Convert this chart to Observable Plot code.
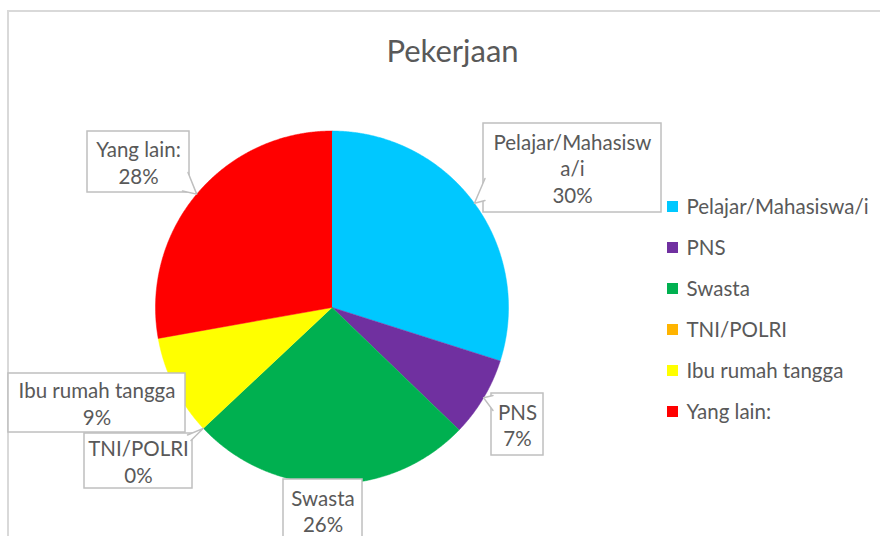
<!DOCTYPE html>
<html>
<head>
<meta charset="utf-8">
<script src="https://cdn.jsdelivr.net/npm/d3@7"></script>
<script src="https://cdn.jsdelivr.net/npm/@observablehq/plot@0.6"></script>
<style>
  html, body { margin: 0; padding: 0; background: #fff; overflow: hidden; }
  #chart { width: 880px; height: 536px; }
</style>
</head>
<body>
<div id="chart"></div>
<script>
// ---- data ----
const title = "Pekerjaan";
const categories = ["Pelajar/Mahasiswa/i", "PNS", "Swasta", "TNI/POLRI", "Ibu rumah tangga", "Yang lain:"];
const values = [29.9, 7.3, 25.8, 0, 9.2, 27.8];
const colors = ["#00c8ff", "#7030a0", "#00b050", "#ffb400", "#ffff00", "#ff0000"];
const calloutNames = ["Pelajar/Mahasisw\na/i", "PNS", "Swasta", "TNI/POLRI", "Ibu rumah tangga", "Yang lain:"];

// ---- layout (pixels) ----
const cx = 331.5, cy = 307, R = 176.5;
const FONT = "Lato, 'Open Sans', sans-serif";
const TEXT = "#595959";
const BOX = "#bfbfbf";
const LABEL_SIZE = 20.5;
// callout boxes in drawing order (index refers to categories)
const callouts = [
  {i: 0, x1: 483, x2: 661, y1: 123, y2: 212, base: [[484.5, 178], [484.5, 200]]},
  {i: 1, x1: 491, x2: 543, y1: 393, y2: 455, base: [[492.5, 395], [492.5, 410]]},
  {i: 2, x1: 283, x2: 362, y1: 479, y2: 541, base: null},
  {i: 3, x1: 84,  x2: 192, y1: 433, y2: 488, base: [[187, 434.5], [190.5, 440]]},
  {i: 4, x1: 8,   x2: 185, y1: 373, y2: 432, base: null},
  {i: 5, x1: 87,  x2: 189, y1: 131, y2: 192, base: [[187.5, 172], [182, 190.5]]}
];
const legendX = 667, legendY0 = 206.5, legendStep = 41, legendSq = 11;

// ---- build ----
const rows = categories.map((name, k) => ({name, value: values[k], color: colors[k], k}));
const total = d3.sum(values);
const arcs = d3.pie().sort(null).value(d => d.value)(rows);

const slicePts = arcs.flatMap(a => {
  const span = a.endAngle - a.startAngle;
  if (span <= 0) return [];
  const n = Math.max(2, Math.ceil(span / 0.005));
  const pts = [{name: a.data.name, color: a.data.color, x: cx, y: cy}];
  for (let j = 0; j <= n; j++) {
    const ang = a.startAngle + span * j / n;
    pts.push({name: a.data.name, color: a.data.color, x: cx + R * Math.sin(ang), y: cy - R * Math.cos(ang)});
  }
  return pts;
});

const tipOf = i => {
  const a = arcs[i];
  const m = (a.startAngle + a.endAngle) / 2;
  return [cx + R * Math.sin(m), cy - R * Math.cos(m)];
};

const wedgePts = callouts.filter(c => c.base).flatMap(c => {
  const t = tipOf(c.i);
  return [
    {id: c.i, x: c.base[0][0], y: c.base[0][1]},
    {id: c.i, x: t[0], y: t[1]},
    {id: c.i, x: c.base[1][0], y: c.base[1][1]}
  ];
});

const pctFmt = d3.format(".0%");
const calloutText = c => calloutNames[c.i] + "\n" + pctFmt(values[c.i] / total);

const legendRows = rows.map((r, k) => ({...r, yc: legendY0 + k * legendStep}));

const plot = Plot.plot({
  width: 880,
  height: 536,
  margin: 0,
  style: {background: "#fff", fontFamily: FONT},
  x: {type: "linear", domain: [0, 880], range: [0, 880], axis: null},
  y: {type: "linear", domain: [0, 536], range: [0, 536], axis: null},
  marks: [
    // chart border
    Plot.rect([0], {x1: 8, x2: 900, y1: 11, y2: 600, fill: "white", stroke: "#d9d9d9", strokeWidth: 2, clip: true}),
    // title
    Plot.text([title], {x: 452, y: 52, text: d => d, fontSize: 31, fill: TEXT, textAnchor: "middle", fontFamily: FONT}),
    // pie slices
    Plot.line(slicePts, {x: "x", y: "y", z: "name", fill: "color", stroke: "color", strokeWidth: 0.5, curve: "linear"}),
    // callout boxes
    Plot.rect(callouts, {x1: "x1", x2: "x2", y1: "y1", y2: "y2", fill: "white", stroke: BOX, strokeWidth: 1.5, clip: true}),
    Plot.line(wedgePts, {x: "x", y: "y", z: "id", fill: "white", stroke: BOX, strokeWidth: 1.5}),
    Plot.text(callouts, {
      x: c => (c.x1 + c.x2) / 2, y: c => (c.y1 + c.y2) / 2,
      text: calloutText, fontSize: LABEL_SIZE, lineHeight: 1.29, fill: TEXT, textAnchor: "middle", fontFamily: FONT
    }),
    // legend
    Plot.rect(legendRows, {x1: legendX, x2: legendX + legendSq, y1: d => d.yc - legendSq / 2, y2: d => d.yc + legendSq / 2, fill: "color"}),
    Plot.text(legendRows, {x: legendX + legendSq + 8, y: "yc", text: "name", fontSize: LABEL_SIZE, fill: TEXT, textAnchor: "start", fontFamily: FONT})
  ]
});
document.getElementById("chart").appendChild(plot);
</script>
</body>
</html>
